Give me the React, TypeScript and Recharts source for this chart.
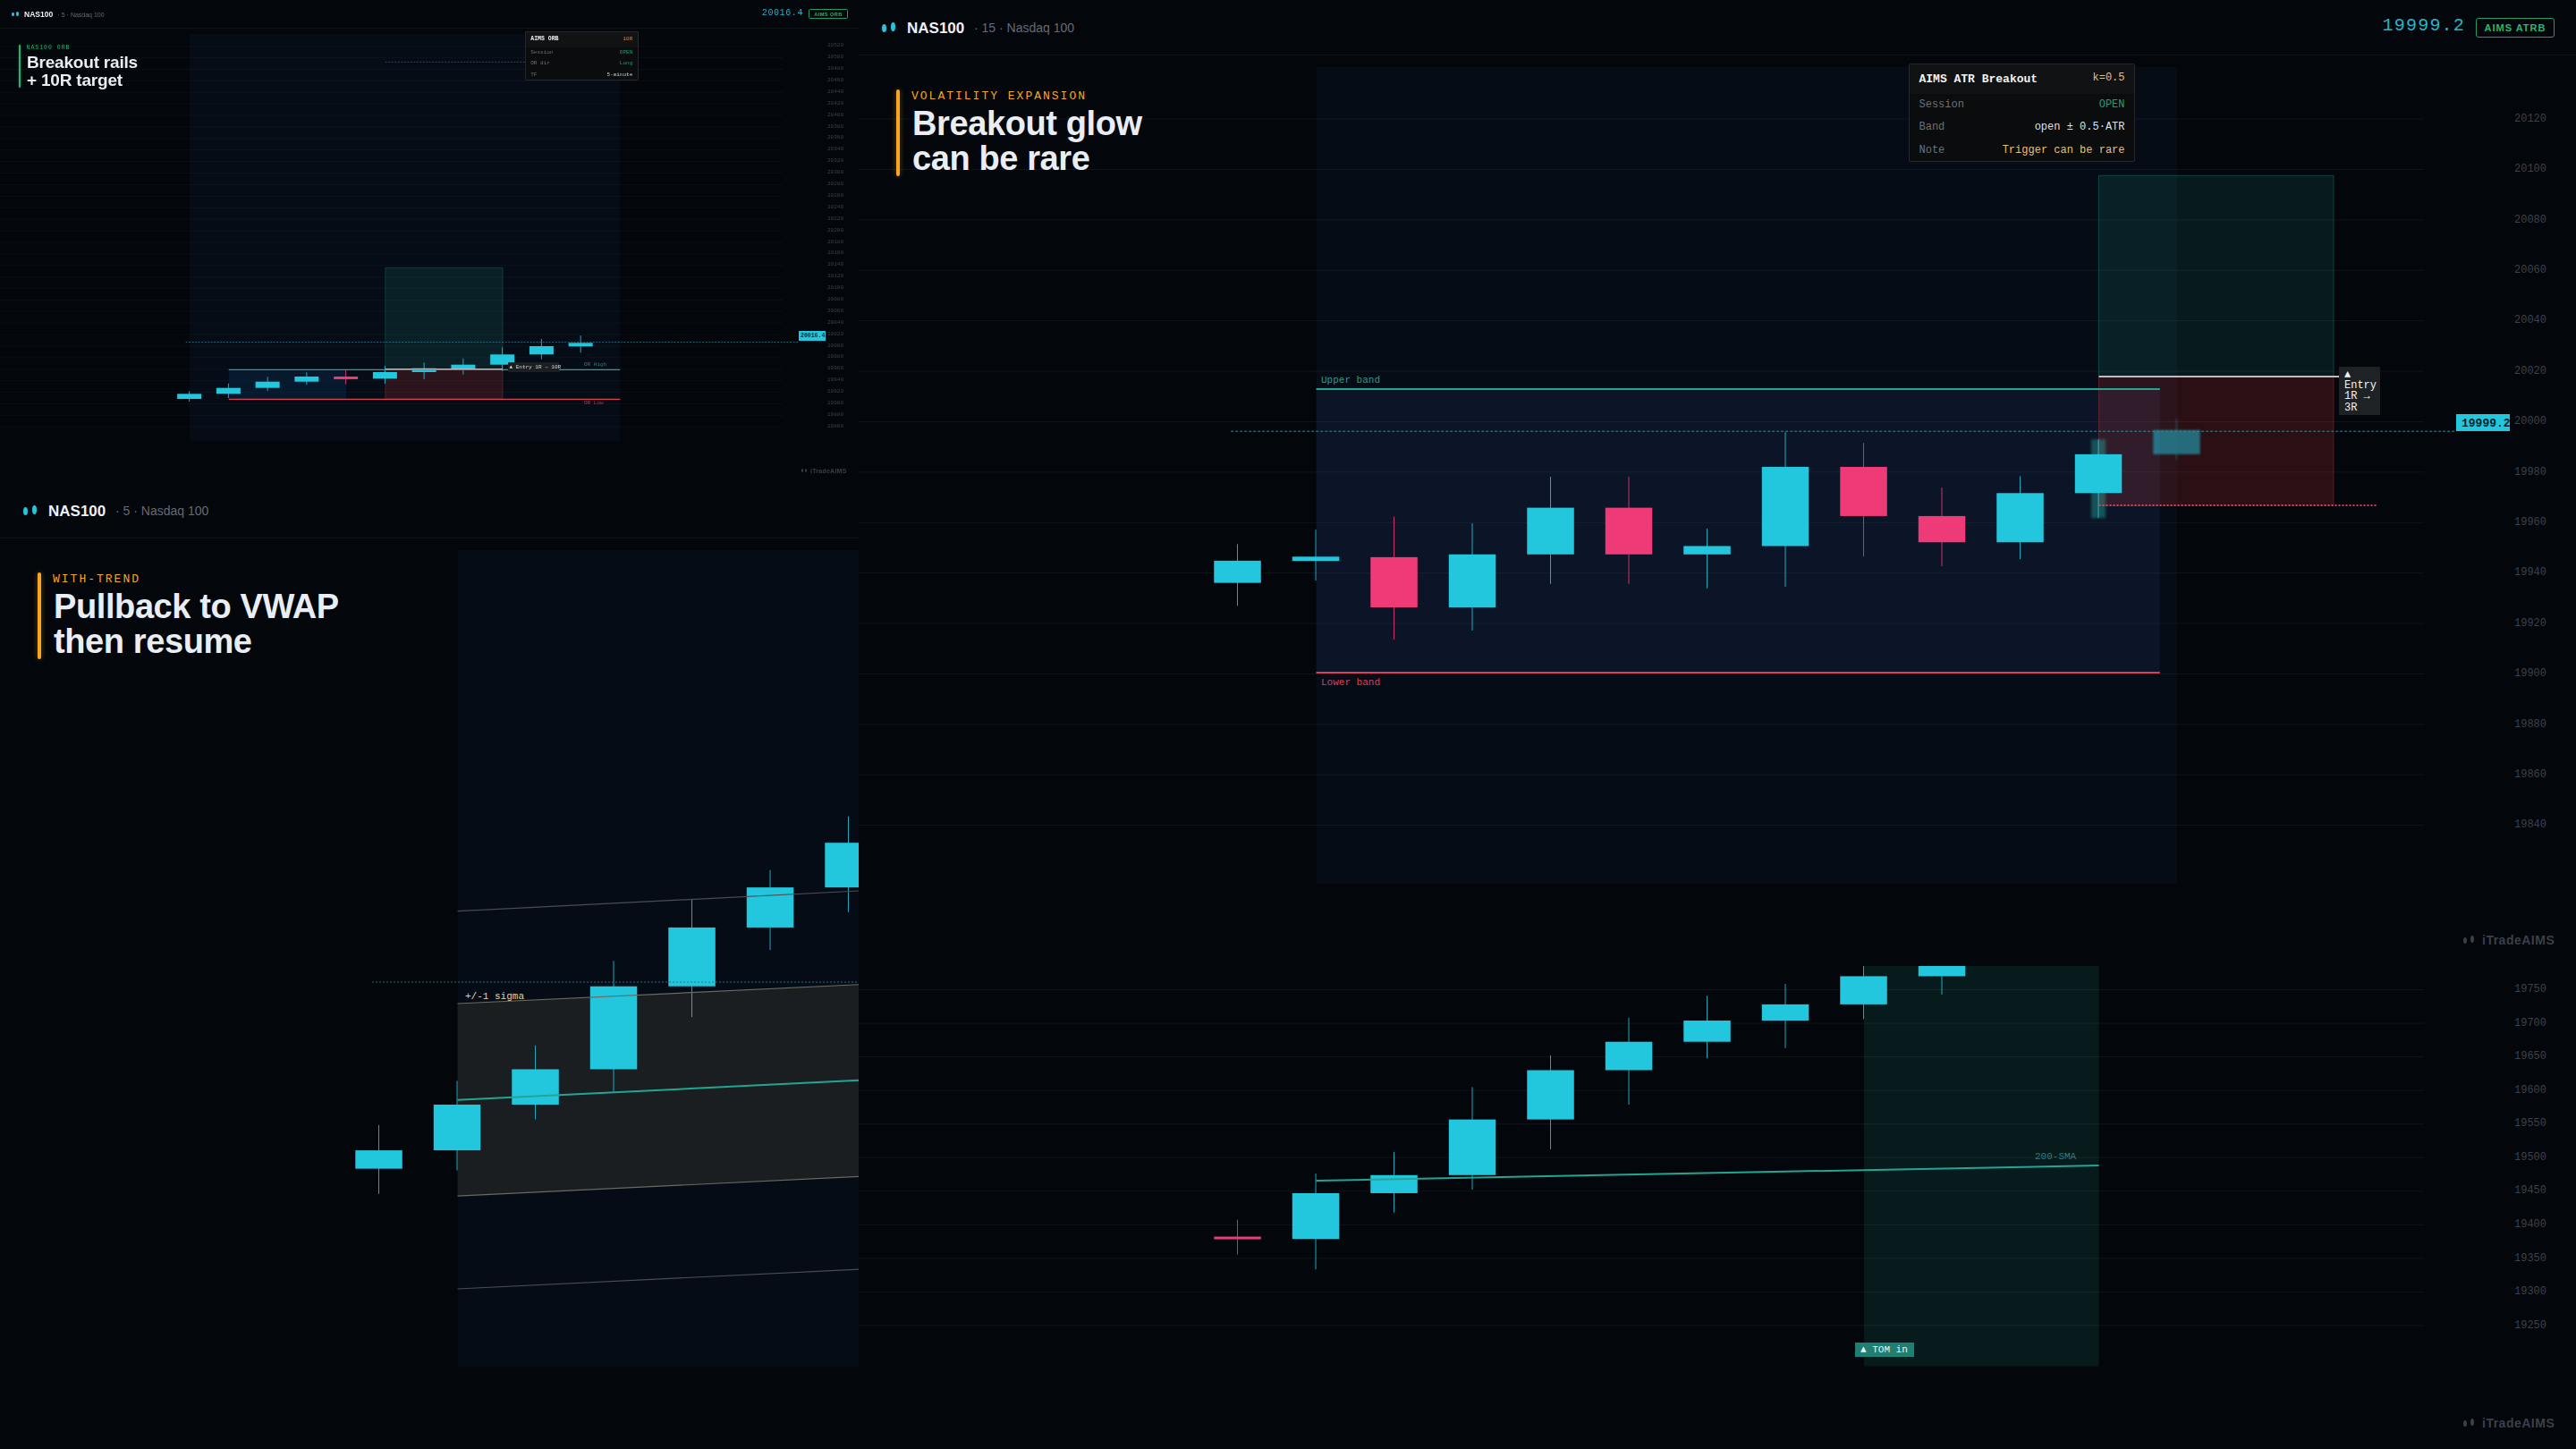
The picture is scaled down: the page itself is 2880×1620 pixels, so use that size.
import React from 'react'
import { ComposedChart, Bar, Line, Area, XAxis, YAxis, CartesianGrid, ReferenceArea, ReferenceLine } from 'recharts'

const BG = '#03060b'
const GRID = '#11151b'
const CYAN = '#22c7de'
const PINK = '#ee3a76'
const TEAL = '#23a594'
const RED = '#d8405a'
const AMBER = '#f5a623'
const GREEN = '#22b573'
const SESSION = 'rgba(30,62,122,0.11)'
const BAND = 'rgba(55,88,152,0.13)'
const MONO = '"Liberation Mono", monospace'
const SANS = '"Liberation Sans", Arial, sans-serif'

// top-left panel, ORB
const orbOpen = [19908.5, 19917.3, 19927.6, 19938.4, 19947.3, 19943.7, 19955, 19960.7, 19967.9, 19985.6, 19999.5]
const orbClose = [19917.3, 19927.6, 19938.4, 19947.3, 19944.6, 19955, 19961.7, 19967.9, 19985.6, 20000, 20005.7]
const orbHigh = [19922, 19935.3, 19946.8, 19954.6, 19958.6, 19966.3, 19971.6, 19978.7, 19998, 20012.4, 20018.6]
const orbLow = [19903.8, 19910, 19922.5, 19932.8, 19933.8, 19934.9, 19942.6, 19950.8, 19956.6, 19977.2, 19988.7]
const orbTicks = [20520, 20500, 20480, 20460, 20440, 20420, 20400, 20380, 20360, 20340, 20320, 20300, 20280, 20260, 20240, 20220, 20200, 20180, 20160, 20140, 20120, 20100, 20080, 20060, 20040, 20020, 20000, 19980, 19960, 19940, 19920, 19900, 19880, 19860]

// top-right panel, ATR breakout
const atrOpen = [19936.1, 19944.8, 19946.3, 19926.4, 19947.4, 19965.9, 19947.4, 19950.7, 19982.1, 19962.6, 19952.2, 19971.7, 19987.1]
const atrClose = [19944.9, 19946.5, 19926.4, 19947.4, 19965.9, 19947.4, 19950.7, 19982.1, 19962.6, 19952.2, 19971.7, 19987.1, 19996.7]
const atrHigh = [19951.5, 19957.2, 19962.4, 19959.7, 19978.2, 19978.2, 19957.6, 19995.9, 19991.6, 19973.9, 19978.4, 19993, 20001.2]
const atrLow = [19927, 19937, 19913.6, 19917.2, 19935.7, 19935.7, 19933.9, 19934.6, 19946.6, 19942.7, 19945.5, 19961.8, 19984.9]
const atrTicks = [20120, 20100, 20080, 20060, 20040, 20020, 20000, 19980, 19960, 19940, 19920, 19900, 19880, 19860, 19840]

// bottom-left panel, VWAP pullback
const vwapOpen = [19391.8, 19405.4, 19439.3, 19465.5, 19527, 19570.6, 19600.3]
const vwapClose = [19405.4, 19439.3, 19465.5, 19527, 19570.6, 19600.3, 19633.4]
const vwapHigh = [19424.2, 19456.9, 19483.2, 19545.8, 19591.8, 19613.1, 19653]
const vwapLow = [19373.1, 19390.5, 19428.3, 19448, 19504.2, 19554, 19582]
const vwapTicks = [19800, 19750, 19700, 19650, 19600, 19550, 19500, 19450, 19400, 19350, 19300]
const vwapMid = [{ i: 1, v: 19442.7 }, { i: 7, v: 19459.8 }]
const vwapUp1 = [{ i: 1, v: 19514.2 }, { i: 7, v: 19530.7 }]
const vwapUp2 = [{ i: 1, v: 19582.7 }, { i: 7, v: 19600.3 }]
const vwapDn1 = [{ i: 1, v: 19371.6 }, { i: 7, v: 19388.4 }]
const vwapDn2 = [{ i: 1, v: 19302.7 }, { i: 7, v: 19319.7 }]
const vwapBand = vwapUp1.map((p, n) => ({ i: p.i, range: [vwapDn1[n].v, p.v] }))

// bottom-right panel, turn of month
const tomOpen = [19382.4, 19378.9, 19447.1, 19474, 19556.8, 19630.2, 19672.5, 19704.1, 19728.2, 19770.1]
const tomClose = [19379, 19447.1, 19474, 19556.8, 19630.2, 19672.5, 19704.1, 19728.2, 19770.1, 19791.9]
const tomHigh = [19407.5, 19476.4, 19508.5, 19605, 19652.4, 19708.1, 19741, 19758.7, 19798.6, 19810]
const tomLow = [19355.7, 19333.6, 19418.3, 19452.4, 19512.5, 19578.9, 19647.9, 19663.2, 19706.1, 19743]
const tomTicks = [19750, 19700, 19650, 19600, 19550, 19500, 19450, 19400, 19350, 19300, 19250]
const tomSma = [{ i: 1, v: 19465.7 }, { i: 11, v: 19488.3 }]

const toCandles = (open: number[], close: number[], high: number[], low: number[]) =>
  open.map((o, i) => ({ i, open: o, close: close[i], high: high[i], low: low[i], range: [low[i], high[i]] }))

const candleShape = (wickW: number, glowIndex = -1, ghostIndex = -1) => (props: any) => {
  const { x, y, width, height, payload } = props
  const yOf = (p: number) => y + ((payload.high - p) / (payload.high - payload.low)) * height
  const up = payload.close >= payload.open
  const color = up ? CYAN : PINK
  const top = yOf(Math.max(payload.open, payload.close))
  const bodyH = Math.max(Math.abs(yOf(payload.open) - yOf(payload.close)), 3 * wickW)
  const cx = x + width / 2
  const ghost = payload.i === ghostIndex
  return (
    <g opacity={ghost ? 0.5 : 1} style={ghost ? { filter: 'blur(1.2px)' } : undefined}>
      {payload.i === glowIndex && (
        <rect x={cx - 8} y={y} width={16} height={height} fill="#2dd4bf" opacity={0.32} style={{ filter: 'blur(1.5px)' }} />
      )}
      <line x1={cx} x2={cx} y1={y} y2={y + height} stroke={color} strokeWidth={wickW} strokeOpacity={0.85} />
      <rect x={x} y={top} width={width} height={bodyH} fill={color} />
    </g>
  )
}

function Panel({ x, y, w, h, chartW, chartH, rightW, domain, ticks, rows, barW, wickW, labelX, fontSize, gridColor = GRID, showLabels = true, glow, ghost, extra, below, blur, children }: any) {
  return (
    <div style={{ position: 'absolute', left: x, top: y, width: w, height: h, overflow: 'hidden', filter: blur ? `blur(${blur}px)` : undefined }}>
      <ComposedChart width={chartW} height={chartH} data={rows} margin={{ top: 0, right: 0, bottom: 0, left: 0 }}>
        <CartesianGrid horizontal vertical={false} stroke={gridColor} syncWithTicks />
        <XAxis dataKey="i" type="number" domain={[-4.846, 15.154]} hide allowDataOverflow />
        <YAxis
          orientation="right"
          width={rightW}
          domain={domain}
          ticks={ticks}
          interval={0}
          allowDataOverflow
          axisLine={false}
          tickLine={false}
          tick={showLabels ? ({ y: ty, payload }: any) => (
            <text x={labelX} y={ty - 1.5} dy="0.35em" fill="#3d424a" fontFamily={MONO} fontSize={fontSize}>{payload.value}</text>
          ) : false}
        />
        {below}
        <Bar dataKey="range" barSize={barW} shape={candleShape(wickW, glow, ghost)} isAnimationActive={false} />
        {extra}
      </ComposedChart>
      {children}
    </div>
  )
}

const T = ({ x, y, size, color, font = MONO, weight = 400, spacing = 0, right, children, style }: any) => (
  <div style={{
    position: 'absolute', left: right === undefined ? x : undefined, right, top: y, transform: 'translateY(-50%)',
    fontFamily: font, fontSize: size, color, fontWeight: weight, letterSpacing: spacing, lineHeight: 1, whiteSpace: 'pre', ...style,
  }}>{children}</div>
)

const Mark = ({ x, y, k, color = CYAN, opacity = 1 }: any) => (
  <div style={{ position: 'absolute', left: x, top: y, width: 16 * k, height: 11 * k, opacity }}>
    <div style={{ position: 'absolute', left: 0, top: 2 * k, width: 5 * k, height: 9 * k, borderRadius: '50%', background: color }} />
    <div style={{ position: 'absolute', left: 10 * k, top: 0, width: 5 * k, height: 10 * k, borderRadius: '50%', background: color }} />
  </div>
)

const Header = ({ k, tf, price, badge }: any) => (
  <>
    <Mark x={26 * k} y={25 * k} k={k} />
    <T x={54 * k} y={31 * k} size={17 * k} color="#eef1f5" font={SANS} weight={700}>NAS100</T>
    <T x={129 * k} y={31 * k} size={14 * k} color="#646b76" font={SANS}>{`· ${tf} · Nasdaq 100`}</T>
    <div style={{ position: 'absolute', left: 0, top: 61 * k, width: 1920 * k, height: 1, background: '#10141a' }} />
    {price && <T right={124 * k} y={29 * k} size={20 * k} color="#25b6cc" spacing={1.2 * k}>{price}</T>}
    {badge && (
      <div style={{
        position: 'absolute', left: 1808 * k, top: 20 * k, width: 88 * k, height: 22 * k, boxSizing: 'border-box', border: `${Math.max(1, 1.5 * k)}px solid #1f9d68`,
        borderRadius: 3 * k, color: '#2cb573', fontFamily: SANS, fontWeight: 700, fontSize: 11 * k, letterSpacing: k,
        display: 'flex', alignItems: 'center', justifyContent: 'center', whiteSpace: 'pre',
      }}>{badge}</div>
    )}
  </>
)

const Title = ({ k, color, kicker, lines, top, barH }: any) => (
  <>
    <div style={{ position: 'absolute', left: 42 * k, top, width: 4 * k, height: barH, background: color, borderRadius: 2 * k, boxShadow: `0 0 ${6 * k}px ${color}66` }} />
    <T x={59 * k} y={top + 7 * k} size={13 * k} color={color} spacing={2 * k}>{kicker}</T>
    <T x={60 * k} y={top + 38 * k} size={38 * k} color="#e9edf4" font={SANS} weight={700} spacing={-0.4 * k}>{lines[0]}</T>
    <T x={60 * k} y={top + 77 * k} size={38 * k} color="#e9edf4" font={SANS} weight={700} spacing={-0.4 * k}>{lines[1]}</T>
  </>
)

const Card = ({ x, y, k, title, tag, tagColor, rows }: any) => (
  <div style={{ position: 'absolute', left: x, top: y, width: 253 * k, height: 110 * k, boxSizing: 'border-box', background: '#0a0c0e', border: '1px solid #24272b', borderRadius: 2 * k }}>
    <div style={{ position: 'absolute', left: 0, top: 0, right: 0, height: 33 * k, background: '#101214' }} />
    <T x={10.5 * k} y={16 * k} size={13 * k} color="#f1f3f5" weight={700}>{title}</T>
    <T right={10.5 * k} y={15 * k} size={12 * k} color={tagColor}>{tag}</T>
    {rows.map((r: any, n: number) => (
      <React.Fragment key={r.label}>
        <T x={10.5 * k} y={[45, 70, 96][n] * k} size={12 * k} color="#6d7177">{r.label}</T>
        <T right={10.5 * k} y={[45, 70, 96][n] * k} size={12 * k} color={r.color}>{r.value}</T>
      </React.Fragment>
    ))}
  </div>
)

const Watermark = ({ markX, textX, y, k }: any) => (
  <>
    <Mark x={markX} y={y - 5 * k} k={k * 0.8} color="#3b4047" />
    <T x={textX} y={y} size={14 * k} color="#3b4047" font={SANS} weight={700} spacing={0.5 * k}>iTradeAIMS</T>
  </>
)

const seg = (x1: number, x2: number, y: number) => [{ x: x1, y }, { x: x2, y }] as any

export default function App() {
  return (
    <div style={{ position: 'absolute', left: 0, top: 0, width: 2880, height: 1620, background: BG, overflow: 'hidden' }}>
      {/* top left */}
      <Panel
        x={0} y={0} w={960} h={540} chartW={960} chartH={540} rightW={85} blur={0.4} gridColor="#0b0f15"
        domain={[19762.7, 20600.2]} ticks={orbTicks} rows={toCandles(orbOpen, orbClose, orbHigh, orbLow)}
        barW={27} wickW={1} labelX={925} fontSize={6}
        below={[
          <ReferenceArea key="s" x1={0} x2={11} y1={19834.7} y2={20541.4} fill={SESSION} fillOpacity={1} stroke="none" ifOverflow="visible" />,
          <ReferenceArea key="or" x1={1} x2={4} y1={19908} y2={19959.2} fill="rgba(15,80,140,0.2)" fillOpacity={1} stroke="none" ifOverflow="visible" />,
          <ReferenceArea key="g" x1={5} x2={8} y1={19960.4} y2={20136} fill="rgba(45,212,191,0.1)" fillOpacity={1} stroke="rgba(45,212,191,0.2)" ifOverflow="visible" />,
          <ReferenceArea key="r" x1={5} x2={8} y1={19908} y2={19960.4} fill="rgba(239,68,68,0.17)" fillOpacity={1} stroke="rgba(239,68,68,0.25)" ifOverflow="visible" />,
        ]}
        extra={[
          <ReferenceLine key="h" segment={seg(1, 11, 19959.2)} stroke={TEAL} strokeWidth={1.2} ifOverflow="visible" />,
          <ReferenceLine key="l" segment={seg(1, 11, 19908)} stroke={RED} strokeWidth={1.2} ifOverflow="visible" />,
          <ReferenceLine key="e" segment={seg(5, 8, 19960.4)} stroke="#b9bdc0" strokeWidth={1} ifOverflow="visible" />,
          <ReferenceLine key="d" segment={seg(-0.1, 15.58, 20007)} stroke="#2f7c88" strokeWidth={0.8} strokeDasharray="2 1.5" ifOverflow="visible" />,
          <ReferenceLine key="t" segment={seg(5, 8.57, 20492.7)} stroke="#1f6f6a" strokeWidth={0.8} strokeDasharray="2 1.5" ifOverflow="visible" />,
        ]}
      >
        <Header k={0.5} tf="5" price="20016.4" badge="AIMS ORB" />
        <Title k={0.5} color={GREEN} kicker="NAS100 ORB" lines={['Breakout rails', '+ 10R target']} top={50} barH={48} />
        <Card x={587} y={35} k={0.5} title="AIMS ORB" tag="10R" tagColor="#c98a4b" rows={[
          { label: 'Session', value: 'OPEN', color: '#1f9d78' },
          { label: 'OR dir', value: 'Long', color: '#1f9d78' },
          { label: 'TF', value: '5-minute', color: '#c9ced4' },
        ]} />
        <div style={{ position: 'absolute', left: 893, top: 370, width: 30, height: 11, background: CYAN, overflow: 'hidden' }}>
          <T x={2} y={5.5} size={6.5} color="#06222a" weight={700}>20016.4</T>
        </div>
        <div style={{ position: 'absolute', left: 568, top: 405, width: 57, height: 11, background: '#1b1f22' }}>
          <T x={1.5} y={5.5} size={6} color="#d5d8db">▲ Entry 1R → 10R</T>
        </div>
        <T x={653} y={408} size={6} color="#2c7f76">OR High</T>
        <T x={653} y={451} size={6} color="#b23a4e">OR Low</T>
        <Watermark markX={896} textX={906} y={526} k={0.5} />
      </Panel>

      {/* bottom left */}
      <Panel
        x={0} y={540} w={960} h={1080} chartW={1920} chartH={1080} rightW={170}
        domain={[19184, 19900.1]} ticks={vwapTicks} rows={toCandles(vwapOpen, vwapClose, vwapHigh, vwapLow)}
        barW={52.5} wickW={1} showLabels={false}
        below={[
          <ReferenceArea key="s" x1={1} x2={12} y1={19245.2} y2={19850.4} fill={SESSION} fillOpacity={1} stroke="none" ifOverflow="visible" />,
          <Area key="b" data={vwapBand} dataKey="range" type="linear" fill="rgba(90,84,62,0.25)" fillOpacity={1} stroke="none" isAnimationActive={false} />,
          <Line key="u2" data={vwapUp2} dataKey="v" type="linear" stroke="#4a4e52" strokeWidth={1.2} dot={false} isAnimationActive={false} />,
          <Line key="d2" data={vwapDn2} dataKey="v" type="linear" stroke="#4a4e52" strokeWidth={1.2} dot={false} isAnimationActive={false} />,
          <Line key="u1" data={vwapUp1} dataKey="v" type="linear" stroke="#6a6a64" strokeWidth={1.2} dot={false} isAnimationActive={false} />,
          <Line key="d1" data={vwapDn1} dataKey="v" type="linear" stroke="#6a6a64" strokeWidth={1.2} dot={false} isAnimationActive={false} />,
          <Line key="m" data={vwapMid} dataKey="v" type="linear" stroke={TEAL} strokeWidth={2} dot={false} isAnimationActive={false} />,
          <ReferenceLine key="p" segment={seg(-0.09, 12, 19530.1)} stroke="#2f6f80" strokeWidth={1} strokeDasharray="2 2" ifOverflow="visible" />,
        ]}
      >
        <Header k={1} tf="5" />
        <Title k={1} color={AMBER} kicker="WITH-TREND" lines={['Pullback to VWAP', 'then resume']} top={100} barH={97} />
        <T x={520} y={574} size={11} color="#e6d49c">+/-1 sigma</T>
      </Panel>

      {/* top right */}
      <Panel
        x={960} y={0} w={1920} h={1080} chartW={1920} chartH={1080} rightW={170}
        domain={[19784.2, 20167.2]} ticks={atrTicks} rows={toCandles(atrOpen, atrClose, atrHigh, atrLow)}
        barW={52.5} wickW={1} labelX={1851} fontSize={12} glow={11} ghost={12}
        below={[
          <ReferenceArea key="s" x1={1} x2={12} y1={19816.8} y2={20140.6} fill={SESSION} fillOpacity={1} stroke="none" ifOverflow="visible" />,
          <ReferenceArea key="b" x1={1} x2={11.78} y1={19900.5} y2={20012.9} fill={BAND} fillOpacity={1} stroke="none" ifOverflow="visible" />,
          <ReferenceArea key="g" x1={11} x2={14} y1={20017.9} y2={20097.6} fill="rgba(45,212,191,0.1)" fillOpacity={1} stroke="rgba(45,212,191,0.25)" ifOverflow="visible" />,
          <ReferenceArea key="r" x1={11} x2={14} y1={19966.8} y2={20017.9} fill="rgba(239,68,68,0.17)" fillOpacity={1} stroke="rgba(239,68,68,0.3)" ifOverflow="visible" />,
          <ReferenceLine key="u" segment={seg(1, 11.78, 20012.9)} stroke={TEAL} strokeWidth={2} ifOverflow="visible" />,
          <ReferenceLine key="l" segment={seg(1, 11.78, 19900.5)} stroke={RED} strokeWidth={2} ifOverflow="visible" />,
          <ReferenceLine key="e" segment={seg(11, 14.56, 20017.9)} stroke="#b9bdc0" strokeWidth={2} ifOverflow="visible" />,
          <ReferenceLine key="st" segment={seg(11, 14.56, 19966.8)} stroke={RED} strokeWidth={2} strokeDasharray="2 2" ifOverflow="visible" />,
          <ReferenceLine key="p" segment={seg(-0.09, 15.57, 19996.2)} stroke="#3a8a96" strokeWidth={1} strokeDasharray="3 2" ifOverflow="visible" />,
        ]}
      >
        <Header k={1} tf="15" price="19999.2" badge="AIMS ATRB" />
        <Title k={1} color={AMBER} kicker="VOLATILITY EXPANSION" lines={['Breakout glow', 'can be rare']} top={100} barH={97} />
        <T x={517} y={425} size={11} color="#2c9a88">Upper band</T>
        <T x={517} y={763} size={11} color="#d9405f">Lower band</T>
        <Card x={1174} y={71} k={1} title="AIMS ATR Breakout" tag="k=0.5" tagColor="#d9c48a" rows={[
          { label: 'Session', value: 'OPEN', color: '#1f9d78' },
          { label: 'Band', value: 'open ± 0.5·ATR', color: '#dde1e6' },
          { label: 'Note', value: 'Trigger can be rare', color: '#e5c07b' },
        ]} />
        <div style={{ position: 'absolute', left: 1655, top: 410, width: 46, height: 54, background: '#1f2224' }}>
          <T x={6} y={9} size={12} color="#f1f3f5">▲</T>
          <T x={6} y={21} size={12} color="#f1f3f5">Entry</T>
          <T x={6} y={33} size={12} color="#f1f3f5">1R →</T>
          <T x={6} y={46} size={12} color="#f1f3f5">3R</T>
        </div>
        <div style={{ position: 'absolute', left: 1786, top: 463, width: 60, height: 19, background: CYAN, overflow: 'hidden' }}>
          <T x={6} y={10} size={13} color="#06222a" weight={700}>19999.2</T>
        </div>
        <Watermark markX={1794} textX={1815} y={1051} k={1} />
      </Panel>

      {/* bottom right */}
      <Panel
        x={960} y={1080} w={1920} h={540} chartW={1920} chartH={540} rightW={170}
        domain={[19066.2, 19785.3]} ticks={tomTicks} rows={toCandles(tomOpen, tomClose, tomHigh, tomLow)}
        barW={52.5} wickW={1} labelX={1851} fontSize={12}
        below={[
          <ReferenceArea key="g" x1={8} x2={11} y1={19189.3} y2={19785.3} fill="rgba(45,212,191,0.1)" fillOpacity={1} stroke="none" ifOverflow="visible" />,
          <Line key="m" data={tomSma} dataKey="v" type="linear" stroke={TEAL} strokeWidth={2} dot={false} isAnimationActive={false} />,
        ]}
      >
        <T x={1315} y={213} size={11} color="#2f7f78">200-SMA</T>
        <div style={{ position: 'absolute', left: 1114, top: 421, width: 66, height: 16, background: '#1f7f72' }}>
          <T x={6} y={8} size={11} color="#e8f3f1">▲ TOM in</T>
        </div>
        <Watermark markX={1794} textX={1815} y={511} k={1} />
      </Panel>
    </div>
  )
}
